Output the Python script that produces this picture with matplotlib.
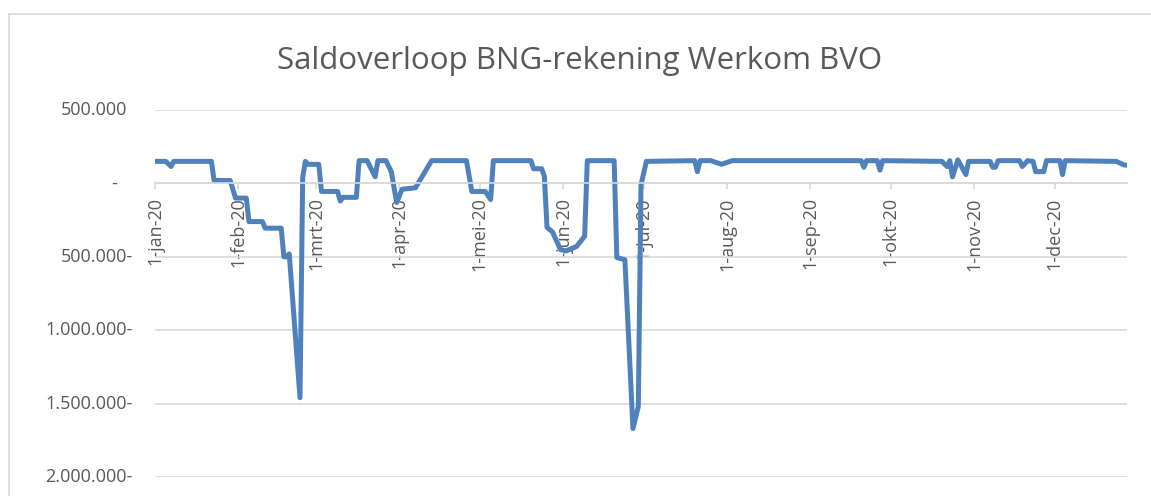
import matplotlib
matplotlib.use("Agg")
import matplotlib.pyplot as plt
import matplotlib.transforms as mtransforms
from matplotlib.lines import Line2D
import pandas as pd

# saldo per datum (negatief = debetstand)
dates = [
    '2020-01-01', '2020-01-05', '2020-01-07', '2020-01-08', '2020-01-22', '2020-01-23',
    '2020-01-29', '2020-01-31', '2020-02-04', '2020-02-05', '2020-02-10', '2020-02-11',
    '2020-02-17', '2020-02-18', '2020-02-19', '2020-02-20', '2020-02-24', '2020-02-25',
    '2020-02-26', '2020-02-27', '2020-03-02', '2020-03-03', '2020-03-09', '2020-03-10',
    '2020-03-11', '2020-03-16', '2020-03-17', '2020-03-20', '2020-03-23', '2020-03-24',
    '2020-03-27', '2020-03-29', '2020-03-31', '2020-04-02', '2020-04-07', '2020-04-13',
    '2020-04-26', '2020-04-28', '2020-05-03', '2020-05-05', '2020-05-06', '2020-05-20',
    '2020-05-21', '2020-05-24', '2020-05-25', '2020-05-26', '2020-05-28', '2020-05-31',
    '2020-06-02', '2020-06-06', '2020-06-09', '2020-06-10', '2020-06-20', '2020-06-21',
    '2020-06-24', '2020-06-27', '2020-06-29', '2020-06-30', '2020-07-02', '2020-07-20',
    '2020-07-21', '2020-07-22', '2020-07-26', '2020-07-30', '2020-08-03', '2020-09-20',
    '2020-09-21', '2020-09-22', '2020-09-26', '2020-09-27', '2020-09-28', '2020-10-20',
    '2020-10-22', '2020-10-23', '2020-10-24', '2020-10-26', '2020-10-29', '2020-10-30',
    '2020-11-07', '2020-11-08', '2020-11-09', '2020-11-10', '2020-11-18', '2020-11-19',
    '2020-11-21', '2020-11-23', '2020-11-24', '2020-11-27', '2020-11-28', '2020-12-03',
    '2020-12-04', '2020-12-05', '2020-12-24', '2020-12-27', '2020-12-28',
]
saldo = [
    150000, 150000, 115000, 150000, 150000, 20000,
    20000, -100000, -100000, -260000, -260000, -305000,
    -305000, -500000, -500000, -480000, -1460000, 40000,
    150000, 130000, 130000, -55000, -55000, -120000,
    -95000, -95000, 155000, 155000, 45000, 155000,
    155000, 80000, -130000, -40000, -30000, 155000,
    155000, -55000, -55000, -110000, 155000, 155000,
    100000, 100000, 50000, -300000, -330000, -450000,
    -460000, -430000, -360000, 155000, 155000, -505000,
    -520000, -1670000, -1520000, -10000, 150000, 155000,
    80000, 155000, 155000, 130000, 155000, 155000,
    110000, 155000, 155000, 90000, 155000, 150000,
    115000, 155000, 45000, 160000, 60000, 150000,
    150000, 110000, 110000, 155000, 155000, 115000,
    155000, 150000, 80000, 80000, 155000, 155000,
    60000, 155000, 150000, 125000, 125000,
]

month_labels = ['1-jan-20', '1-feb-20', '1-mrt-20', '1-apr-20', '1-mei-20', '1-jun-20',
                '1-jul-20', '1-aug-20', '1-sep-20', '1-okt-20', '1-nov-20', '1-dec-20']
y_ticks = [500000, 0, -500000, -1000000, -1500000, -2000000]
y_labels = ['500.000', '-', '500.000-', '1.000.000-', '1.500.000-', '2.000.000-']

title = 'Saldoverloop BNG-rekening Werkom BVO'

plt.rcParams['font.family'] = ['Open Sans', 'DejaVu Sans']
text_color = '#595959'
grid_color = '#D9D9D9'

W, H = 1151, 496
fig = plt.figure(figsize=(W / 100, H / 100), dpi=100)
ax = fig.add_axes([155 / W, 1 - 477 / H, (1127 - 155) / W, (477 - 110) / H])

x = pd.to_datetime(dates)
ax.plot(x, saldo, color='#4F81BD', lw=3.6, solid_joinstyle='round', solid_capstyle='round')

ax.set_xlim(x[0], x[-1])
ax.set_ylim(y_ticks[-1], y_ticks[0])

# horizontale rasterlijnen
ax.set_yticks(y_ticks)
ax.yaxis.grid(True, color=grid_color, lw=1.2)
ax.set_axisbelow(True)
ax.tick_params(axis='y', length=0, labelleft=False)

# y-labels in Excel boekhoudnotatie
trans = mtransforms.blended_transform_factory(fig.transFigure, ax.transData)
for val, lab in zip(y_ticks, y_labels):
    if val > 0:
        xr = 127
    elif val == 0:
        xr = 117
    else:
        xr = 133
    ax.text(xr / W, val, lab, transform=trans, ha='right', va='center',
            fontsize=13, color=text_color)

# datum-as op de nullijn
for s in ['top', 'right', 'left']:
    ax.spines[s].set_visible(False)
ax.spines['bottom'].set_position(('data', 0))
ax.spines['bottom'].set_color(grid_color)
ax.spines['bottom'].set_linewidth(1.2)
ticks = pd.date_range('2020-01-01', periods=len(month_labels), freq='MS')
ax.set_xticks(ticks)
ax.set_xticklabels(month_labels, rotation=90, fontsize=13, color=text_color)
for lab in ax.get_xticklabels():
    lab.set_rotation_mode('default')
    lab.set_va('top')
    lab.set_ha('center')
ax.tick_params(axis='x', direction='out', length=4, width=1.2, color=grid_color, pad=6)

fig.text(580 / W, 1 - 61 / H, title, ha='center', va='center', fontsize=22.5, color=text_color)

# kader van het grafiekgebied
fig.add_artist(Line2D([8.5 / W, 8.5 / W], [0, 1 - 13.5 / H], transform=fig.transFigure,
                      color=grid_color, lw=1.2))
fig.add_artist(Line2D([8.5 / W, 1], [1 - 13.5 / H, 1 - 13.5 / H], transform=fig.transFigure,
                      color=grid_color, lw=1.2))

fig.savefig('out.png', dpi=100)
